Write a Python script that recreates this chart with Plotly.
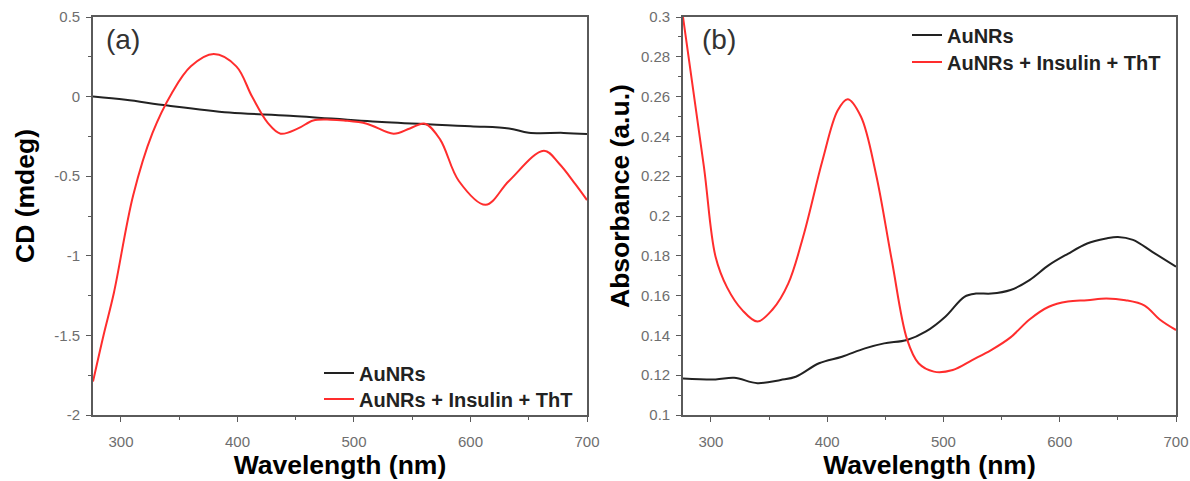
import plotly.graph_objects as go

# ---- Data ----
cd_black_x = [276, 304, 340, 393, 445, 524, 600, 633, 650, 680, 700]
cd_black_y = [0.0, -0.02, -0.056, -0.10, -0.12, -0.16, -0.186, -0.20, -0.227, -0.228, -0.235]

cd_red_x = [276, 285, 294, 310.5, 327, 343.5, 360, 379.6, 399, 412.5, 426, 437, 452, 465, 480, 491.5,
            511, 534, 548, 561, 574, 590, 613, 633, 663, 676, 690, 700]
cd_red_y = [-1.79, -1.5, -1.23, -0.62, -0.23, 0.02, 0.19, 0.267, 0.19, 0.0, -0.165, -0.233, -0.2, -0.15,
            -0.145, -0.15, -0.17, -0.233, -0.2, -0.17, -0.27, -0.53, -0.68, -0.53, -0.34, -0.42, -0.55, -0.65]

ab_red_x = [276, 294, 304, 314, 327, 340, 353, 366.5, 380, 396, 409, 417.6, 429, 442, 455.5, 468.7,
            478.6, 491.8, 508, 524.7, 541, 557.7, 574, 590.6, 607, 623.6, 640, 656.5, 673, 686, 700]
ab_red_y = [0.300, 0.2247, 0.1795, 0.164, 0.1527, 0.147, 0.153, 0.166, 0.191, 0.228, 0.253, 0.2587,
            0.25, 0.221, 0.178, 0.138, 0.126, 0.1218, 0.1226, 0.1276, 0.1326, 0.139, 0.148, 0.1544,
            0.157, 0.1577, 0.1586, 0.1577, 0.155, 0.148, 0.1427]

ab_black_x = [276, 304, 320, 340, 360, 373, 393, 412.7, 432.5, 449, 468.7, 485, 501.6, 518, 528, 541,
              557.7, 574, 590.6, 607, 623.6, 640, 650, 663, 679.6, 700]
ab_black_y = [0.1184, 0.1179, 0.1187, 0.116, 0.1176, 0.1192, 0.126, 0.1293, 0.1335, 0.136, 0.1377,
              0.142, 0.1494, 0.1594, 0.161, 0.161, 0.1628, 0.1678, 0.1753, 0.181, 0.1862, 0.1887,
              0.1895, 0.188, 0.182, 0.1745]

x_ticks = [300, 400, 500, 600, 700]
cd_ticks = [0.5, 0, -0.5, -1, -1.5, -2]
cd_ticktext = ["0.5", "0", "-0.5", "-1", "-1.5", "-2"]
ab_ticks = [0.1, 0.12, 0.14, 0.16, 0.18, 0.2, 0.22, 0.24, 0.26, 0.28, 0.3]
ab_ticktext = ["0.1", "0.12", "0.14", "0.16", "0.18", "0.2", "0.22", "0.24", "0.26", "0.28", "0.3"]

names = ["AuNRs", "AuNRs + Insulin + ThT"]
colors = ["#222222", "#ff2d2d"]
y_titles = ["CD (mdeg)", "Absorbance (a.u.)"]
x_title = "Wavelength (nm)"
panel_tags = ["(a)", "(b)"]

W, H = 1190, 481
FONT = "Liberation Sans, Arial, sans-serif"

fig = go.Figure()
fig.add_trace(go.Scatter(x=cd_black_x, y=cd_black_y, mode="lines", line=dict(color=colors[0], width=2, shape="spline"),
                         name="<b>%s</b>" % names[0], xaxis="x", yaxis="y", legend="legend"))
fig.add_trace(go.Scatter(x=cd_red_x, y=cd_red_y, mode="lines", line=dict(color=colors[1], width=2, shape="spline"),
                         name="<b>%s</b>" % names[1], xaxis="x", yaxis="y", legend="legend2"))
fig.add_trace(go.Scatter(x=ab_black_x, y=ab_black_y, mode="lines", line=dict(color=colors[0], width=2, shape="spline"),
                         name="<b>%s</b>" % names[0], xaxis="x2", yaxis="y2", legend="legend3"))
fig.add_trace(go.Scatter(x=ab_red_x, y=ab_red_y, mode="lines", line=dict(color=colors[1], width=2, shape="spline"),
                         name="<b>%s</b>" % names[1], xaxis="x2", yaxis="y2", legend="legend4"))

ydom = [1 - 415 / H, 1 - 17 / H]
axis_common = dict(showline=True, linecolor="#5a5a5a", linewidth=1.6, mirror=True, showgrid=False,
                   zeroline=False, ticks="outside", ticklen=5, tickwidth=1.2, tickcolor="#5a5a5a",
                   automargin=False,
                   tickfont=dict(family=FONT, size=15, color="#6e6e6e"))

xcommon = dict(axis_common, range=[276, 700], tickmode="array", tickvals=x_ticks, ticklabelstandoff=7,
               minor=dict(dtick=50, tick0=300, ticks="outside", ticklen=3, tickcolor="#5a5a5a"),
               title=dict(text="<b>%s</b>" % x_title, font=dict(family=FONT, size=26.5, color="#000"), standoff=4))

legend_common = dict(xanchor="left", yanchor="middle", bgcolor="rgba(0,0,0,0)",
                     font=dict(family=FONT, size=20, color="#222"))

ann_font = dict(family=FONT, size=26.5, color="#000")

fig.update_layout(
    width=W, height=H, margin=dict(l=0, r=0, t=0, b=0),
    paper_bgcolor="white", plot_bgcolor="white",
    xaxis=dict(xcommon, domain=[93 / W, 587 / W], anchor="y"),
    yaxis=dict(axis_common, domain=ydom, range=[-2, 0.5], tickmode="array", tickvals=cd_ticks,
               ticktext=cd_ticktext, anchor="x", ticklabelstandoff=3,
               minor=dict(dtick=0.25, ticks="outside", ticklen=3, tickcolor="#5a5a5a")),
    xaxis2=dict(xcommon, domain=[683 / W, 1176 / W], anchor="y2"),
    yaxis2=dict(axis_common, domain=ydom, range=[0.1, 0.3], tickmode="array", tickvals=ab_ticks,
                ticktext=ab_ticktext, anchor="x2", ticklabelstandoff=3,
                minor=dict(dtick=0.01, ticks="outside", ticklen=3, tickcolor="#5a5a5a")),
    legend=dict(legend_common, x=319 / W, y=1 - 373 / H),
    legend2=dict(legend_common, x=319 / W, y=1 - 399 / H),
    legend3=dict(legend_common, x=907 / W, y=1 - 35 / H),
    legend4=dict(legend_common, x=907 / W, y=1 - 62 / H),
    showlegend=True,
    annotations=[
        dict(text="<b>%s</b>" % y_titles[0], x=25 / W, y=1 - 196 / H, xref="paper", yref="paper",
             xanchor="center", yanchor="middle", textangle=-90, showarrow=False, font=ann_font),
        dict(text="<b>%s</b>" % y_titles[1], x=620 / W, y=1 - 196 / H, xref="paper", yref="paper",
             xanchor="center", yanchor="middle", textangle=-90, showarrow=False, font=ann_font),
        dict(text=panel_tags[0], x=104 / W, y=1 - 22 / H, xref="paper", yref="paper", xanchor="left", yanchor="top",
             showarrow=False, font=dict(family=FONT, size=28, color="#333")),
        dict(text=panel_tags[1], x=700 / W, y=1 - 22 / H, xref="paper", yref="paper", xanchor="left", yanchor="top",
             showarrow=False, font=dict(family=FONT, size=28, color="#333")),
    ],
)

fig.write_html("out.html")
